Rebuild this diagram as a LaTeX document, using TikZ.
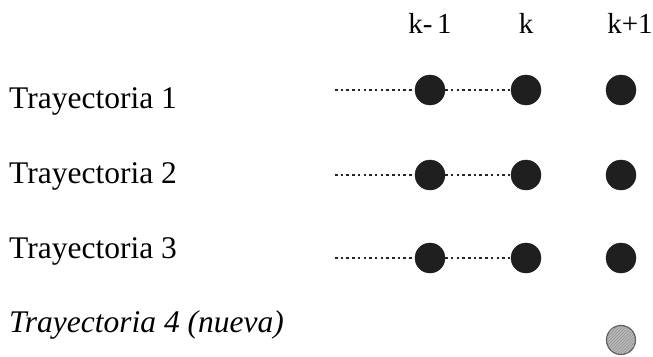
\documentclass[tikz,border=0pt]{standalone}
\usepackage{fontspec}
\setmainfont{Liberation Serif}
\usetikzlibrary{patterns}
\begin{document}
\begin{tikzpicture}[x=1pt,y=-1pt,
  rowlabel/.style={anchor=base west,inner sep=0pt,font=\fontsize{31.5}{38}\selectfont},
  steplabel/.style={anchor=base,inner sep=0pt,font=\fontsize{29}{35}\selectfont},
  state/.style={circle,fill=black!88,draw=black!88,minimum size=30pt,inner sep=0pt},
  newstate/.style={circle,fill=gray!55,draw=black!65,line width=1.2pt,
    postaction={pattern=north east lines,pattern color=gray!85},
    minimum size=29pt,inner sep=0pt},
  link/.style={line width=1.1pt,dash pattern=on 2.5pt off 3.2pt,black!85}]
\useasboundingbox (0,0) rectangle (653,356);
\fill[white] (0,0) rectangle (653,356);

% time-step headers
\node[steplabel] (hkm) at (430,33) {k-\,1};
\node[steplabel] (hk)  at (526,33) {k};
\node[steplabel] (hkp) at (630,33) {k+1};

% trajectory labels
\node[rowlabel] (t1) at (9,108) {Trayectoria 1};
\node[rowlabel] (t2) at (9,183) {Trayectoria 2};
\node[rowlabel] (t3) at (9,258) {Trayectoria 3};
\node[rowlabel] (t4) at (9,332) {\itshape Trayectoria 4 (nueva)};

% states of each trajectory
\foreach \r/\y in {1/90,2/175,3/258}{
  \coordinate (s\r) at (335,\y);
  \node[state] (a\r) at (430,\y) {};
  \node[state] (b\r) at (526,\y) {};
  \node[state] (c\r) at (621,\y) {};
  \draw[link] (s\r) -- (a\r.west);
  \draw[link] (a\r.east) -- (b\r.west);
}
\node[newstate] (c4) at (621,340) {};
\end{tikzpicture}
\end{document}
